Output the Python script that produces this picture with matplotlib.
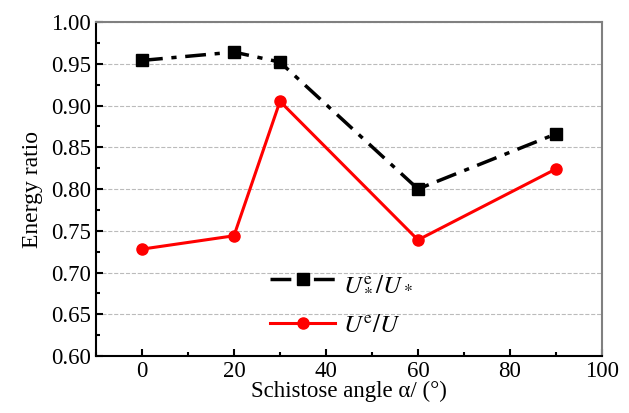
import matplotlib.pyplot as plt
from matplotlib.ticker import MultipleLocator

angles = [0, 20, 30, 60, 90]
ratio_star = [0.954, 0.964, 0.952, 0.800, 0.866]
ratio_plain = [0.728, 0.744, 0.905, 0.739, 0.824]

plt.rcParams['font.family'] = ['Liberation Serif', 'DejaVu Serif']
plt.rcParams['mathtext.fontset'] = 'stix'

fig = plt.figure(figsize=(6.29, 4.13), dpi=100)
ax = fig.add_axes([0.1526, 0.138, 0.8044, 0.8087])

ax.plot(angles, ratio_star, color='black', linestyle=(0, (6, 2.5, 1.5, 2.5)), linewidth=2.5,
        marker='s', markersize=8, label=r'$U_*^{\mathrm{e}}/U_*$')
ax.plot(angles, ratio_plain, color='red', linewidth=2.2,
        marker='o', markersize=8, label=r'$U^{\mathrm{e}}/U$')

ax.set_xlim(-10, 100)
ax.set_ylim(0.60, 1.00)
ax.xaxis.set_major_locator(MultipleLocator(20))
ax.xaxis.set_minor_locator(MultipleLocator(10))
ax.yaxis.set_major_locator(MultipleLocator(0.05))
ax.yaxis.set_minor_locator(MultipleLocator(0.025))
ax.yaxis.set_major_formatter(plt.FormatStrFormatter('%.2f'))
ax.tick_params(which='both', direction='in', labelsize=16.5, width=1.5)
ax.tick_params(which='major', length=5)
ax.tick_params(which='minor', length=3)
ax.grid(axis='y', which='major', linestyle='--', color='#bbbbbb', linewidth=0.8)

for s in ['left', 'bottom']:
    ax.spines[s].set_linewidth(1.5)
for s in ['top', 'right']:
    ax.spines[s].set_color('gray')
    ax.spines[s].set_linewidth(1.5)

ax.set_xlabel('Schistose angle α/ (°)', fontsize=16.5, labelpad=-1)
ax.set_ylabel('Energy ratio', fontsize=17, labelpad=6)

ax.legend(loc='lower left', bbox_to_anchor=(0.3, -0.01), frameon=False, fontsize=18,
          handlelength=2.6, handletextpad=0.3, labelspacing=0.85)

fig.savefig('out.png', dpi=100)
